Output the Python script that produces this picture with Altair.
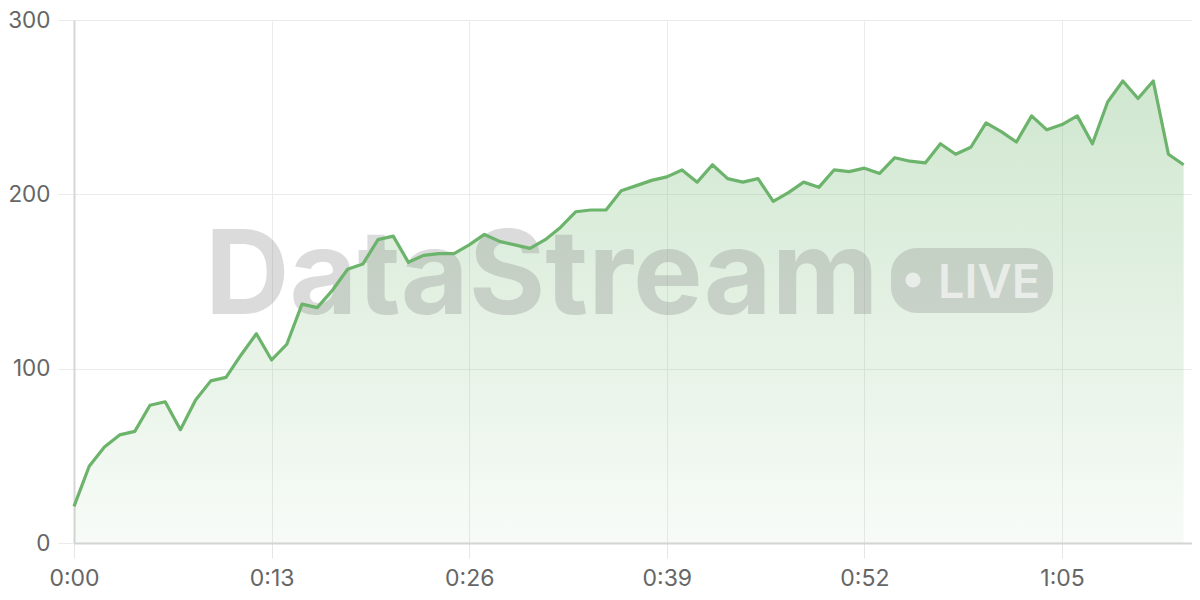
import altair as alt
import pandas as pd

seconds = list(range(74))
values = [21, 44, 55, 62, 64, 79, 81, 65, 82, 93, 95, 108, 120, 105, 114, 137, 135, 145, 157, 160,
          174, 176, 161, 165, 166, 166, 171, 177, 173, 171, 169, 174, 181, 190, 191, 191, 202, 205,
          208, 210, 214, 207, 217, 209, 207, 209, 196, 201, 207, 204, 214, 213, 215, 212, 221, 219,
          218, 229, 223, 227, 241, 236, 230, 245, 237, 240, 245, 229, 253, 265, 255, 265, 223, 217]
x_ticks = [0, 13, 26, 39, 52, 65]
y_ticks = [0, 100, 200, 300]
watermark = ["DataStream"]
badge = ["LIVE"]

df = pd.DataFrame({"t": seconds, "v": values})

GREEN = "#6cb46c"
FONT = "Inter"

x_enc = alt.X("t:Q", scale=alt.Scale(domain=[0, 73.55], nice=False, zero=False),
              axis=alt.Axis(values=x_ticks, title=None, grid=True, gridColor="#ebebeb",
                            domain=True, domainColor="#d4d4d4", domainWidth=2,
                            tickColor="#e6e6e6", tickSize=15, labelPadding=9, labelFlush=False,
                            labelFontSize=23, labelColor="#666666", labelFont=FONT,
                            labelExpr="floor(datum.value/60) + ':' + (datum.value % 60 < 10 ? '0' : '') + (datum.value % 60)"))
y_enc = alt.Y("v:Q", scale=alt.Scale(domain=[0, 300], nice=False),
              axis=alt.Axis(values=y_ticks, title=None, grid=True, gridColor="#ebebeb",
                            domain=True, domainColor="#d6d6d6", domainWidth=2, labelFlush=False,
                            tickColor="#ebebeb", tickSize=16, labelPadding=8,
                            labelFontSize=22.5, labelColor="#666666", labelFont=FONT))

base = alt.Chart(df)

area = base.mark_area(
    line=False,
    color=alt.Gradient(
        gradient="linear",
        stops=[alt.GradientStop(color="rgba(108,180,108,0.32)", offset=0),
               alt.GradientStop(color="rgba(108,180,108,0.05)", offset=1)],
        x1=1, x2=1, y1=0, y2=1,
    ),
).encode(x=x_enc, y=y_enc)

wm_df = pd.DataFrame({"label": watermark})
wm = alt.Chart(wm_df).mark_text(
    font=FONT, fontWeight="bold", fontSize=117, align="left", baseline="alphabetic",
    color="#8a8a8a", opacity=0.3,
).encode(x=alt.value(131), y=alt.value(294), text="label:N")

pill = alt.Chart(wm_df).mark_rect(
    cornerRadius=26, color="#8a8a8a", opacity=0.3,
).encode(x=alt.value(817), x2=alt.value(979), y=alt.value(228), y2=alt.value(293))

dot = alt.Chart(wm_df).mark_point(
    filled=True, shape="circle", size=230, color="#ffffff", opacity=0.6,
).encode(x=alt.value(839), y=alt.value(260))

live_df = pd.DataFrame({"label": badge})
live = alt.Chart(live_df).mark_text(
    font=FONT, fontWeight=600, fontSize=47, align="left", baseline="alphabetic",
    color="#ffffff", opacity=0.6,
).encode(x=alt.value(864), y=alt.value(278), text="label:N")

line = base.mark_line(color=GREEN, strokeWidth=3.2, strokeJoin="round").encode(
    x=alt.X("t:Q"), y=alt.Y("v:Q"))

chart = alt.layer(area, wm, pill, dot, live, line).properties(
    width=1118, height=523,
    autosize=alt.AutoSizeParams(type="none"),
    padding={"left": 66, "top": 12, "right": 0, "bottom": 49},
).configure_view(stroke=None).configure(background="white")

chart.save("out.html", embed_options={"renderer": "svg", "actions": False})
